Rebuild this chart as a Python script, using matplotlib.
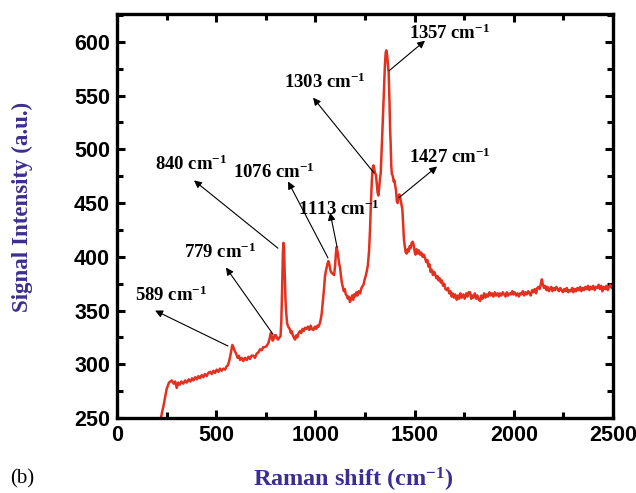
import matplotlib
matplotlib.use("Agg")
import matplotlib.pyplot as plt
from matplotlib.ticker import MultipleLocator

# ---------------- data ----------------
raman_shift = [
222, 235, 250, 262, 276, 285, 293, 301, 308, 316, 324, 334, 343, 352, 361, 370, 378, 385, 394, 402,
410, 418, 427, 435, 443, 452, 460, 469, 477, 486, 494, 502, 511, 519, 527, 536, 544, 552, 558, 565,
570, 576, 581, 586, 592, 600, 608, 614, 620, 628, 636, 645, 654, 662, 670, 678, 687, 695, 704, 712,
721, 729, 737, 746, 754, 763, 769, 775, 780, 784, 788, 794, 801, 806, 812, 818, 824, 828, 832, 836,
839, 842, 845, 849, 852, 857, 863, 870, 876, 880, 886, 891, 897, 903, 909, 915, 922, 928, 935, 941,
948, 956, 962, 969, 976, 982, 990, 997, 1004, 1010, 1015, 1022, 1028, 1032, 1038, 1044, 1048, 1054, 1060, 1065,
1070, 1076, 1082, 1088, 1094, 1099, 1103, 1107, 1111, 1116, 1120, 1124, 1130, 1134, 1138, 1143, 1148, 1153, 1158, 1163,
1168, 1174, 1180, 1185, 1190, 1195, 1200, 1206, 1212, 1218, 1225, 1232, 1238, 1242, 1248, 1253, 1258, 1264, 1270, 1275,
1279, 1284, 1288, 1292, 1296, 1300, 1305, 1309, 1313, 1317, 1321, 1325, 1329, 1334, 1338, 1342, 1346, 1350, 1354, 1357,
1361, 1365, 1369, 1373, 1376, 1379, 1382, 1385, 1388, 1391, 1394, 1398, 1402, 1406, 1410, 1414, 1418, 1422, 1426, 1430,
1434, 1438, 1442, 1446, 1450, 1455, 1460, 1465, 1470, 1475, 1480, 1485, 1490, 1495, 1500, 1504, 1510, 1516, 1521, 1527,
1533, 1540, 1546, 1552, 1558, 1564, 1569, 1575, 1580, 1586, 1592, 1598, 1603, 1609, 1615, 1620, 1626, 1632, 1637, 1643,
1649, 1655, 1662, 1668, 1674, 1680, 1686, 1692, 1698, 1704, 1712, 1718, 1724, 1730, 1737, 1745, 1752, 1760, 1766, 1772,
1779, 1785, 1790, 1796, 1803, 1810, 1816, 1823, 1830, 1836, 1843, 1850, 1857, 1863, 1870, 1877, 1884, 1890, 1897, 1904,
1911, 1918, 1925, 1930, 1937, 1944, 1951, 1958, 1964, 1971, 1978, 1985, 1992, 1997, 2004, 2011, 2018, 2025, 2031, 2038,
2045, 2052, 2058, 2065, 2072, 2078, 2085, 2092, 2098, 2105, 2112, 2118, 2124, 2130, 2136, 2141, 2146, 2152, 2158, 2164,
2170, 2176, 2182, 2188, 2194, 2200, 2207, 2214, 2220, 2227, 2234, 2240, 2247, 2254, 2260, 2267, 2274, 2280, 2287, 2294,
2300, 2307, 2314, 2320, 2327, 2334, 2340, 2347, 2354, 2360, 2367, 2374, 2380, 2387, 2394, 2400, 2407, 2414, 2420, 2427,
2433, 2440, 2446, 2453, 2460, 2466, 2473, 2480, 2486, 2493, 2500,
]
intensity = [
251, 262, 277, 283, 285, 282, 284, 278, 283, 281, 284, 282, 285, 283, 286, 284, 287, 285, 288, 286,
289, 287, 290, 288, 291, 289, 292, 293, 291, 294, 292, 295, 293, 296, 294, 296, 295, 298, 299, 303,
307, 313, 318, 316, 313, 310, 306, 308, 304, 306, 303, 306, 304, 307, 305, 308, 308, 306, 310, 311,
314, 313, 316, 316, 317, 320, 324, 329, 326, 322, 323, 327, 327, 324, 323, 325, 326, 340, 370, 405,
413, 408, 385, 360, 350, 338, 335, 333, 329, 331, 327, 325, 323, 327, 325, 329, 331, 329, 333, 331,
334, 333, 335, 332, 336, 333, 332, 335, 333, 336, 335, 338, 343, 348, 360, 372, 382, 388, 393, 396,
393, 387, 385, 384, 383, 392, 403, 409, 405, 398, 393, 390, 380, 375, 372, 368, 370, 365, 364, 361,
363, 358, 361, 364, 360, 365, 363, 367, 364, 368, 366, 371, 373, 374, 379, 382, 386, 392, 405, 425,
447, 470, 482, 485, 482, 478, 476, 468, 460, 457, 464, 472, 478, 500, 520, 540, 560, 578, 590, 592,
588, 580, 571, 545, 520, 505, 485, 477, 476, 474, 470, 471, 466, 462, 452, 450, 455, 458, 457, 452,
448, 444, 430, 416, 410, 404, 403, 407, 405, 410, 408, 413, 414, 411, 405, 402, 407, 403, 406, 402,
404, 400, 402, 399, 395, 397, 391, 393, 386, 388, 383, 386, 384, 380, 382, 378, 380, 376, 378, 373,
375, 370, 369, 371, 366, 368, 363, 366, 362, 365, 360, 364, 361, 366, 362, 365, 361, 366, 363, 367,
367, 361, 364, 362, 366, 361, 364, 360, 359, 364, 361, 366, 362, 365, 363, 367, 364, 366, 363, 367,
364, 366, 363, 366, 364, 367, 365, 363, 367, 364, 366, 365, 368, 365, 367, 364, 366, 363, 366, 365,
368, 364, 367, 365, 368, 366, 364, 369, 367, 370, 366, 371, 372, 370, 375, 379, 374, 371, 373, 369,
372, 368, 370, 372, 368, 371, 369, 372, 370, 368, 371, 369, 367, 370, 368, 371, 367, 369, 368, 371,
367, 370, 368, 371, 369, 372, 368, 371, 369, 372, 370, 373, 369, 372, 370, 373, 369, 372, 371, 374,
370, 373, 368, 372, 370, 373, 369, 372, 374, 371, 373,
]

peak_labels = ["589", "779", "840", "1076", "1113", "1303", "1357", "1427"]
# label centre (x, y) in data units
label_pos = [(272, 364), (519, 404), (373, 486), (791, 479), (1119, 444), (1048, 562), (1678, 608), (1678, 493)]
# arrow tail (on the spectrum) and head (towards the label)
arrow_tail = [(559, 317), (786, 328), (811, 408), (1063, 399), (1109, 409), (1295, 478), (1371, 573), (1421, 455)]
arrow_head = [(192, 350), (549, 390), (388, 471), (862, 470), (1074, 441), (988, 548), (1552, 601), (1613, 484)]

x_ticks = [0, 500, 1000, 1500, 2000, 2500]
y_ticks = [250, 300, 350, 400, 450, 500, 550, 600]

# ---------------- style ----------------
plt.rcParams['mathtext.fontset'] = 'custom'
plt.rcParams['mathtext.rm'] = 'Liberation Serif:bold'
plt.rcParams['mathtext.it'] = 'Liberation Serif:bold'
plt.rcParams['mathtext.bf'] = 'Liberation Serif:bold'

purple = '#3b2e90'
serif = 'Liberation Serif'

fig = plt.figure(figsize=(6.36, 4.93), dpi=100)
ax = fig.add_axes([0.184, 0.152, 0.780, 0.820])

ax.plot(raman_shift, intensity, color='#e3301f', lw=1.8, solid_joinstyle='round')

ax.set_xlim(0, 2500)
ax.set_ylim(250, 626)
ax.set_xticks(x_ticks)
ax.set_yticks(y_ticks)
ax.xaxis.set_minor_locator(MultipleLocator(250))
ax.yaxis.set_minor_locator(MultipleLocator(25))

for s in ax.spines.values():
    s.set_linewidth(2.4)
ax.tick_params(which='both', direction='in', top=True, right=True, width=2.2)
ax.tick_params(which='major', length=6)
ax.tick_params(which='minor', length=4)
ax.tick_params(axis='both', which='major', labelsize=15.5, pad=5)
for lab in ax.get_xticklabels() + ax.get_yticklabels():
    lab.set_fontfamily('Liberation Sans')
    lab.set_fontweight('bold')

fig.text(22 / 636, 1 - 207 / 493, 'Signal Intensity (a.u.)', rotation=90,
         ha='center', va='center', fontfamily=serif, fontweight='bold',
         fontsize=16.5, color=purple)
fig.text(353 / 636, 1 - 487 / 493, r'Raman shift (cm$^{-1}$)', ha='center', va='baseline',
         fontfamily=serif, fontweight='bold', fontsize=17.5, color=purple)
fig.text(10 / 636, 1 - 479 / 493, '(b)', ha='left', va='center',
         fontfamily=serif, fontsize=15)

for lab, pos, tail, head in zip(peak_labels, label_pos, arrow_tail, arrow_head):
    ax.annotate('', xy=head, xytext=tail,
                arrowprops=dict(arrowstyle='-|>', color='black', lw=0.8,
                                mutation_scale=11, shrinkA=0, shrinkB=0))
    ax.text(pos[0], pos[1], lab + r' cm$^{\mathrm{-1}}$', ha='center', va='center',
            fontfamily=serif, fontweight='bold', fontsize=13.5)

fig.savefig('out.png', dpi=100)
